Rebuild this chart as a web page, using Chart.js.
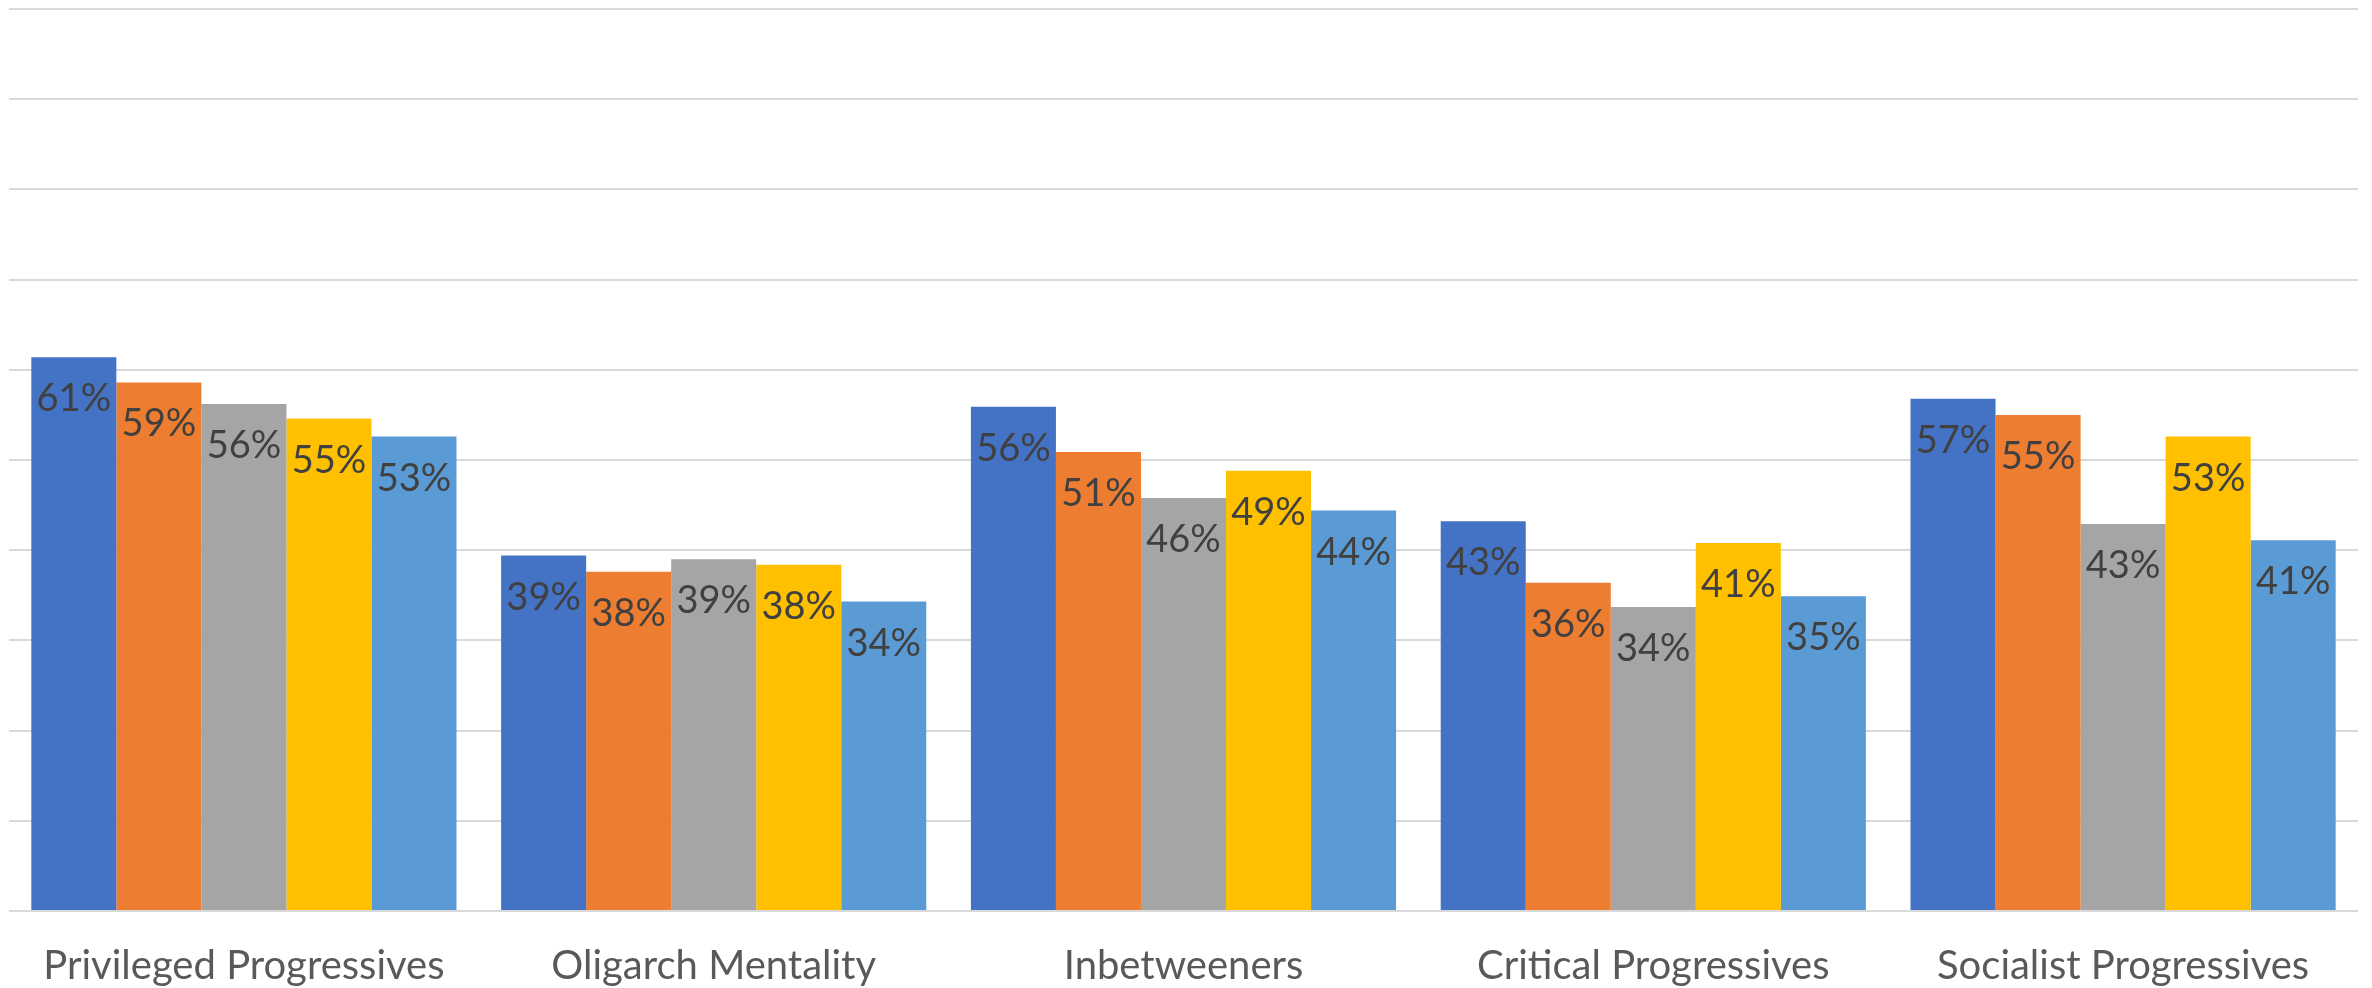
<!DOCTYPE html>
<html>
<head>
<meta charset="utf-8">
<script src="https://cdn.jsdelivr.net/npm/chart.js@4"></script>
<style>
  html, body { margin: 0; padding: 0; background: #ffffff; }
  #chart { display: block; }
</style>
</head>
<body>
<canvas id="chart" width="2372" height="988"></canvas>
<script>
// Categories along the x axis
const categories = [
  'Privileged Progressives',
  'Oligarch Mentality',
  'Inbetweeners',
  'Critical Progressives',
  'Socialist Progressives'
];

// Five unnamed series (percent)
const series1 = [61.4, 39.4, 55.9, 43.2, 56.8];
const series2 = [58.6, 37.6, 50.9, 36.4, 55.0];
const series3 = [56.2, 39.0, 45.8, 33.7, 42.9];
const series4 = [54.6, 38.4, 48.8, 40.8, 52.6];
const series5 = [52.6, 34.3, 44.4, 34.9, 41.1];

const seriesColors = ['#4472C4', '#ED7D31', '#A5A5A5', '#FFC000', '#5B9BD5'];

// Draw the value labels inside the top of each bar
const barLabels = {
  id: 'barLabels',
  afterDatasetsDraw(chart) {
    const ctx = chart.ctx;
    ctx.save();
    ctx.font = '38px Lato';
    ctx.fillStyle = '#404040';
    ctx.textAlign = 'center';
    ctx.textBaseline = 'alphabetic';
    chart.data.datasets.forEach((ds, i) => {
      const meta = chart.getDatasetMeta(i);
      meta.data.forEach((bar, j) => {
        ctx.fillText(Math.round(ds.data[j]) + '%', bar.x, bar.y + 54);
      });
    });
    ctx.restore();
  }
};

const allSeries = [series1, series2, series3, series4, series5];

new Chart(document.getElementById('chart'), {
  type: 'bar',
  data: {
    labels: categories,
    datasets: allSeries.map((values, i) => ({
      label: 'Series ' + (i + 1),
      data: values,
      backgroundColor: seriesColors[i],
      borderWidth: 0,
      barPercentage: 1.0,
      categoryPercentage: 0.905
    }))
  },
  options: {
    responsive: false,
    devicePixelRatio: 1,
    animation: false,
    layout: { padding: { left: 9, right: 14, top: 9, bottom: -33 } },
    plugins: {
      legend: { display: false },
      tooltip: { enabled: false }
    },
    scales: {
      x: {
        grid: { display: false, drawTicks: false },
        border: { display: false },
        ticks: {
          font: { family: 'Lato', size: 40 },
          color: '#595959',
          padding: 31,
          maxRotation: 0,
          autoSkip: false
        }
      },
      y: {
        min: 0,
        max: 100,
        grid: { color: '#d9d9d9', lineWidth: 2, drawTicks: false },
        border: { display: false },
        ticks: { display: false, stepSize: 10 }
      }
    }
  },
  plugins: [barLabels]
});
</script>
</body>
</html>
